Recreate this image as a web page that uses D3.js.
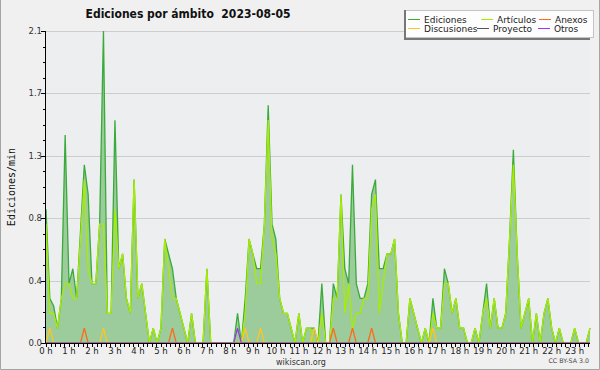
<!DOCTYPE html>
<html>
<head>
<meta charset="utf-8">
<script src="https://cdnjs.cloudflare.com/ajax/libs/d3/7.8.5/d3.min.js"></script>
<style>
  body { margin: 0; background: #f0f0f0; }
  text { font-family: "DejaVu Sans", sans-serif; fill: #111; }
</style>
</head>
<body>
<div id="chart_container"></div>
<script>
// edits per minute, one value per 10 minute slot starting at 0:00
var ediciones = [
  0.9,0.3,0.25,0.1,0.3,1.4,0.4,0.5,0.3,0.75,
  1.2,1.0,0.4,0.4,0.8,2.1,0.2,0.2,1.5,0.5,
  0.6,0.3,0.2,1.1,0.3,0.4,0.2,0,0.1,0,
  0.1,0.7,0.6,0.5,0.3,0.2,0.1,0,0.2,0,
  0,0,0.5,0,0,0,0,0,0,0,
  0.2,0,0.3,0.7,0.6,0.5,0.5,0.8,1.6,0.8,
  0.7,0.3,0.2,0.2,0.1,0,0.2,0,0.1,0.1,
  0.1,0,0.4,0,0,0.4,0.3,1.0,0.5,0.4,
  1.2,0.4,0.3,0.3,0.4,1.0,1.1,0.5,0.5,0.6,
  0.6,0.7,0.2,0,0,0.3,0.2,0.1,0,0.1,
  0,0.3,0.1,0.1,0.5,0.4,0.2,0.3,0.1,0.1,
  0,0,0.1,0,0.2,0.4,0.1,0.3,0.1,0.1,
  0.2,0.7,1.3,0.6,0.1,0.2,0.3,0,0.2,0,
  0.2,0.3,0.1,0,0.1,0,0,0,0.1,0,
  0,0,0.1
];
var articulos = [
  0.8,0.2,0.2,0.1,0.3,0.4,0.4,0.3,0.3,0.7,
  1.1,0.5,0.4,0.4,0.8,0.8,0.2,0.2,0.9,0.5,
  0.6,0.3,0.2,1.1,0.3,0.4,0.2,0,0.1,0,
  0.1,0.7,0.5,0.3,0.3,0.2,0.1,0,0.2,0,
  0,0,0.5,0,0,0,0,0,0,0,
  0.1,0,0.2,0.7,0.6,0.4,0.4,0.8,1.5,0.7,
  0.6,0.3,0.2,0.2,0.1,0,0.2,0,0.1,0.1,
  0,0,0.2,0,0,0.3,0.3,1.0,0.2,0.4,
  0.1,0.2,0.2,0.3,0.3,0.9,1.0,0.2,0.4,0.6,
  0.6,0.7,0.2,0,0,0.3,0.2,0.1,0,0.1,
  0,0.2,0.1,0.1,0.4,0.4,0.2,0.3,0.1,0.1,
  0,0,0.1,0,0.2,0.3,0.1,0.3,0.1,0.1,
  0.2,0.7,1.2,0.6,0.1,0.2,0.3,0,0.2,0,
  0.2,0.3,0.1,0,0.1,0,0,0,0.1,0,
  0,0,0.1
];
var anexos = [
  0,0,0,0,0,0,0,0,0,0,
  0.1,0,0,0,0,0,0,0,0,0,
  0,0,0,0,0,0,0,0,0,0,
  0,0,0,0.1,0,0,0,0,0,0,
  0,0,0,0,0,0,0,0,0,0,
  0,0,0,0,0,0,0,0,0,0,
  0,0,0,0,0,0,0,0,0,0,
  0,0,0,0,0,0.1,0,0,0,0,
  0.1,0,0,0,0,0.1,0,0,0,0,
  0,0,0,0,0,0,0,0,0,0,
  0,0,0,0,0,0,0,0,0,0,
  0,0,0,0,0,0,0,0,0,0,
  0,0,0,0,0,0,0,0,0,0,
  0,0,0,0,0,0,0,0,0,0,
  0,0,0
];
var discusiones = [
  0,0.1,0,0,0,0,0,0,0,0,
  0,0,0,0,0,0.1,0,0,0,0,
  0,0,0,0,0,0,0,0,0,0,
  0,0,0,0,0,0,0,0,0,0,
  0,0,0,0,0,0,0,0,0,0,
  0,0,0.1,0,0,0,0.1,0,0,0,
  0,0,0,0,0,0,0,0,0,0,
  0.1,0,0,0,0,0,0,0,0,0,
  0,0,0,0,0,0,0,0,0,0,
  0,0,0,0,0,0,0,0,0,0,
  0,0.1,0,0,0,0,0,0,0,0,
  0,0,0,0,0,0,0,0,0,0,
  0,0,0,0,0,0,0,0,0,0,
  0,0,0,0,0,0,0,0,0,0,
  0,0,0
];
var proyecto = [
  0,0,0,0,0,0,0,0,0,0, 0,0,0,0,0,0,0,0,0,0, 0,0,0,0,0,0,0,0,0,0,
  0,0,0,0,0,0,0,0,0,0, 0,0,0,0,0,0,0,0,0,0, 0,0,0,0,0,0,0,0,0,0,
  0,0,0,0,0,0,0,0,0,0, 0,0,0,0,0,0,0,0,0,0, 0,0,0,0,0,0,0,0,0,0,
  0,0,0,0,0,0,0,0,0,0, 0,0,0,0,0,0,0,0,0,0, 0,0,0,0,0,0,0,0,0,0,
  0,0,0,0,0,0,0,0,0,0, 0,0,0,0,0,0,0,0,0,0, 0,0,0
];
var otros = [
  0,0,0,0,0,0,0,0,0,0,
  0,0,0,0,0,0,0,0,0,0,
  0,0,0,0,0,0,0,0,0,0,
  0,0,0,0,0,0,0,0,0,0,
  0,0,0,0,0,0,0,0,0,0,
  0.1,0,0,0,0,0,0,0,0,0,
  0,0,0,0,0,0,0,0,0,0,
  0,0,0,0,0,0,0,0,0,0,
  0,0,0,0,0,0,0,0,0,0,
  0,0,0,0,0,0,0,0,0,0,
  0,0,0,0,0,0,0,0,0,0,
  0,0,0,0,0,0,0,0,0,0,
  0,0,0,0,0,0,0,0,0,0,
  0,0,0,0,0,0,0,0,0,0,
  0,0,0
];

var hourLabels = ["0 h","1 h","2 h","3 h","4 h","5 h","6 h","7 h","8 h","9 h","10 h","11 h",
                  "12 h","13 h","14 h","15 h","16 h","17 h","18 h","19 h","20 h","21 h","22 h","23 h"];
var yTicks = [0, 0.42, 0.84, 1.26, 1.68, 2.1];
var seriesNames = ["Ediciones", "Artículos", "Anexos", "Discusiones", "Proyecto", "Otros"];
var seriesColors = ["#3aaa3a", "#a8ec00", "#ff6a1a", "#ffc620", "#555555", "#9933ff"];

var width = 600,
    height = 370;

var svg = d3.select("#chart_container").append("svg")
    .attr("width", width)
    .attr("height", height)
    .style("display", "block");

svg.append("rect").attr("width", width).attr("height", height).attr("fill", "#f0f0f0");
// frame on the left, right and bottom
svg.append("path")
    .attr("d", "M0.5,0 V369.5 H599.5 V0")
    .attr("fill", "none").attr("stroke", "#a4a4a4");

// lines sitting on zero hide under the x axis, like in rrdtool
svg.append("clipPath").attr("id", "plot_clip")
  .append("rect")
    .attr("x", 46).attr("y", 20)
    .attr("width", 545).attr("height", 322.6);

// 10 minute slots -> hours
var x = d3.scaleLinear().domain([0, (ediciones.length - 1) / 6]).range([46, 590]);
var y = d3.scaleLinear().domain([0, 2.1]).range([343, 31]);
var slotHour = (d, i) => i / 6;

// plot background
svg.append("rect")
    .attr("x", 46).attr("y", 31)
    .attr("width", 544).attr("height", 312)
    .attr("fill", "#eceef0");

// horizontal grid
svg.append("g").selectAll("line")
    .data(yTicks.slice(1))
    .enter().append("line")
    .attr("x1", 46).attr("x2", 590)
    .attr("y1", d => Math.round(y(d)) + 0.5)
    .attr("y2", d => Math.round(y(d)) + 0.5)
    .attr("stroke", "#cdcdcd");

// filled area of Ediciones
var area = d3.area()
    .x((d, i) => x(slotHour(d, i)))
    .y0(y(0))
    .y1(d => y(d));
svg.append("path")
    .datum(ediciones)
    .attr("d", area)
    .attr("fill", "#9ccb9c");

var line = d3.line()
    .x((d, i) => x(slotHour(d, i)))
    .y(d => y(d));

var allSeries = [ediciones, articulos, anexos, discusiones, proyecto, otros];
svg.append("g")
    .attr("clip-path", "url(#plot_clip)")
  .selectAll("path")
    .data(allSeries)
    .enter().append("path")
    .attr("d", line)
    .attr("fill", "none")
    .attr("stroke", (d, i) => seriesColors[i])
    .attr("stroke-width", 1.3)
    .attr("stroke-linejoin", "miter");

// y axis
var yAxis = svg.append("g").attr("shape-rendering", "crispEdges");
yAxis.append("line")
    .attr("x1", 45.5).attr("x2", 45.5)
    .attr("y1", 31).attr("y2", 344)
    .attr("stroke", "#000");
var yMinor = d3.range(0, 21).map(k => k * 0.105);
yAxis.selectAll(".minor")
    .data(yMinor)
    .enter().append("line")
    .attr("x1", 43).attr("x2", 46)
    .attr("y1", d => Math.round(y(d)) + 0.5)
    .attr("y2", d => Math.round(y(d)) + 0.5)
    .attr("stroke", "#000");
yAxis.selectAll(".major")
    .data(yTicks)
    .enter().append("line")
    .attr("x1", 41).attr("x2", 46)
    .attr("y1", d => Math.round(y(d)) + 0.5)
    .attr("y2", d => Math.round(y(d)) + 0.5)
    .attr("stroke", "#000");
svg.append("g").selectAll("text")
    .data(yTicks)
    .enter().append("text")
    .attr("x", 42)
    .attr("y", d => y(d) + 3)
    .attr("text-anchor", "end")
    .style("font-size", "8.5px")
    .style("fill", "#333")
    .text(d => d3.format(".1f")(d));

// x axis
var xAxis = svg.append("g").attr("shape-rendering", "crispEdges");
xAxis.append("line")
    .attr("x1", 45).attr("x2", 590)
    .attr("y1", 343.5).attr("y2", 343.5)
    .attr("stroke", "#000");
var xMinor = d3.range(0, 119).map(k => k * 0.2);
xAxis.selectAll(".minor")
    .data(xMinor)
    .enter().append("line")
    .attr("x1", d => Math.round(x(d)) + 0.5)
    .attr("x2", d => Math.round(x(d)) + 0.5)
    .attr("y1", 343).attr("y2", 347)
    .attr("stroke", "#000");
svg.append("g").selectAll("text")
    .data(hourLabels)
    .enter().append("text")
    .attr("x", (d, i) => x(i))
    .attr("y", 353.5)
    .attr("text-anchor", "middle")
    .style("font-size", "8.5px")
    .style("fill", "#222")
    .text(d => d);

// titles
svg.append("text")
    .attr("x", 188)
    .attr("y", 18)
    .attr("text-anchor", "middle")
    .style("font-family", "'DejaVu Sans Condensed', 'DejaVu Sans', sans-serif")
    .style("font-stretch", "condensed")
    .style("font-weight", "bold")
    .style("font-size", "12px")
    .attr("xml:space", "preserve")
    .text("Ediciones por ámbito  2023-08-05");

svg.append("text")
    .attr("transform", "translate(15,187) rotate(-90)")
    .attr("text-anchor", "middle")
    .style("font-family", "'DejaVu Sans Mono', monospace")
    .style("font-size", "10px")
    .text("Ediciones/min");

svg.append("text")
    .attr("x", 301).attr("y", 365)
    .attr("text-anchor", "middle")
    .style("font-size", "8px")
    .style("fill", "#333")
    .text("wikiscan.org");

svg.append("text")
    .attr("x", 589).attr("y", 363)
    .attr("text-anchor", "end")
    .style("font-size", "6.3px")
    .style("fill", "#444")
    .text("CC BY-SA 3.0");

// legend box with shadow on left and bottom
var legend = svg.append("g").attr("shape-rendering", "crispEdges");
legend.append("rect")
    .attr("x", 404.5).attr("y", 10.5)
    .attr("width", 189).attr("height", 27)
    .attr("fill", "#fdfdfd")
    .attr("stroke", "#c4c4c4");
legend.append("path")
    .attr("d", "M405,10 V39 H590")
    .attr("fill", "none")
    .attr("stroke", "#777")
    .attr("stroke-width", 2);

var legendX = [408, 481, 539, 408, 477, 538];
var items = legend.selectAll(".item")
    .data(seriesNames)
    .enter().append("g")
    .attr("transform", (d, i) => "translate(" + legendX[i] + "," + (i < 3 ? 19 : 28) + ")");
items.append("line")
    .attr("x1", 0).attr("x2", 12)
    .attr("y1", 0.5).attr("y2", 0.5)
    .attr("stroke", (d, i) => seriesColors[i])
    .attr("stroke-width", 1);
items.append("text")
    .attr("x", 16)
    .attr("y", 3.5)
    .style("font-size", "9px")
    .style("fill", "#222")
    .text(d => d);
</script>
</body>
</html>
